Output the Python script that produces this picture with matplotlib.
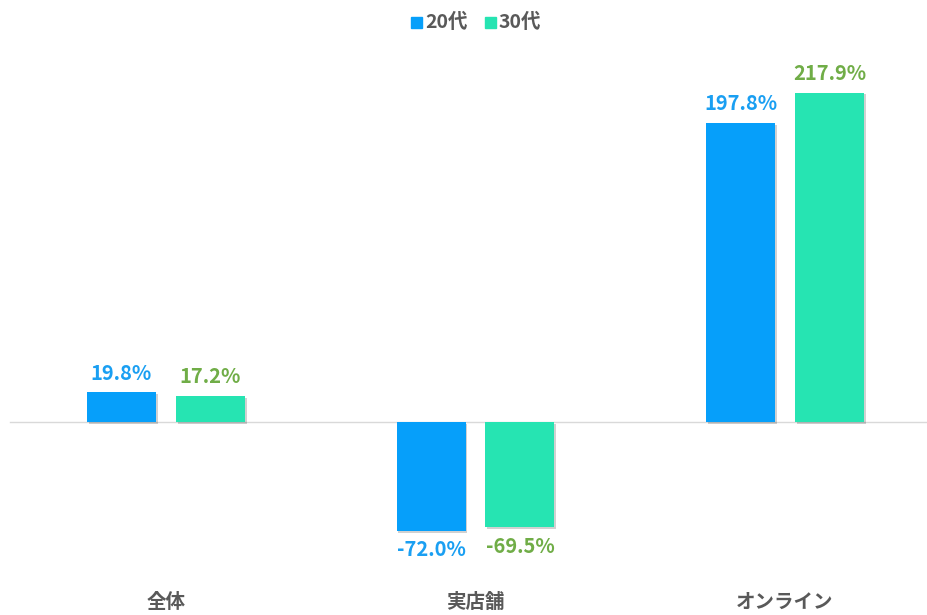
import matplotlib
import matplotlib.pyplot as plt
import matplotlib.patheffects as pe
from matplotlib.patches import Rectangle

matplotlib.use("Agg")
plt.rcParams["font.family"] = ["Noto Sans CJK JP", "DejaVu Sans"]

categories = ["全体", "実店舗", "オンライン"]
series_names = ["20代", "30代"]
values_20s = [19.8, -72.0, 197.8]
values_30s = [17.2, -69.5, 217.9]

bar_colors = ["#069FFA", "#26E4B2"]
label_colors = ["#1A9FF2", "#70AD47"]
text_gray = "#595959"

W, H = 928, 615
fig = plt.figure(figsize=(W / 100, H / 100), dpi=100)
ax = fig.add_axes([0, 0, 1, 1])

# pixel layout: group spacing ~309.5px, zero line at y=422, 1.512 px per %
px_per_cat = 309.5
px_per_unit = 1.512
ax.set_xlim(-166 / px_per_cat, (W - 166) / px_per_cat)
ax.set_ylim(-(H - 422) / px_per_unit, 422 / px_per_unit)
ax.axis("off")

width = 69 / px_per_cat
offset = 44.5 / px_per_cat
shadow = [pe.SimplePatchShadow(offset=(1.2, -1.2), alpha=0.18, shadow_rgbFace="black"), pe.Normal()]

for i, (vals, col, lcol) in enumerate(zip([values_20s, values_30s], bar_colors, label_colors)):
    xs = [c + (-offset if i == 0 else offset) for c in range(len(categories))]
    bars = ax.bar(xs, vals, width=width, color=col, zorder=3)
    for b in bars:
        b.set_path_effects(shadow)
    for x, v in zip(xs, vals):
        dy = 19 / px_per_unit
        y = v + dy if v >= 0 else v - dy
        ax.text(x, y, f"{v:.1f}%", ha="center", va="center", fontsize=14.5,
                fontweight="bold", color=lcol, zorder=4)

ax.axhline(0, xmin=10 / W, xmax=1, color="#D9D9D9", lw=1, zorder=2)

for c, name in enumerate(categories):
    ax.text(c, -(602 - 422) / px_per_unit, name, ha="center", va="center",
            fontsize=14, fontweight="bold", color=text_gray)

# legend drawn at the top in figure pixels
legend_items = [(411, 425), (485, 499)]
for (sq_x, tx), name, col in zip(legend_items, series_names, bar_colors):
    fig.patches.append(Rectangle((sq_x / W, 1 - 28 / H), 11 / W, 11 / H,
                                 transform=fig.transFigure, color=col))
    fig.text(tx / W, 1 - 22 / H, name, ha="left", va="center", fontsize=14,
             fontweight="bold", color=text_gray)

fig.savefig("out.png", dpi=100)
plt.close(fig)
